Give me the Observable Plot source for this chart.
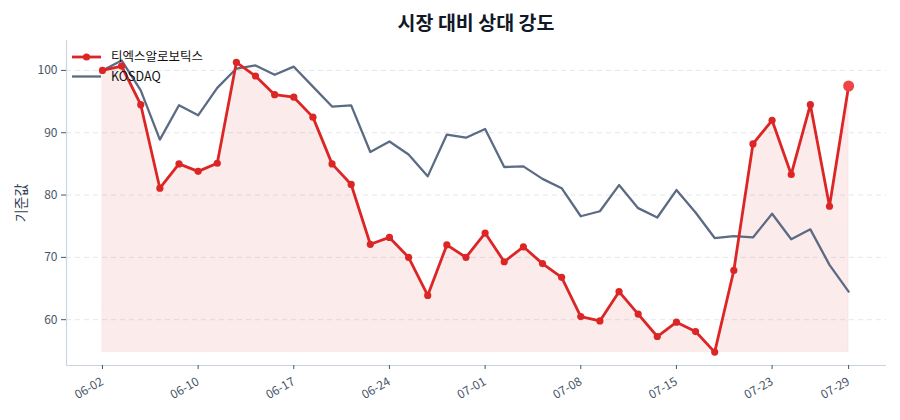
<!DOCTYPE html>
<html>
<head>
<meta charset="utf-8">
<script src="https://cdn.jsdelivr.net/npm/d3@7"></script>
<script src="https://cdn.jsdelivr.net/npm/@observablehq/plot@0.6"></script>
<style>
  html, body { margin: 0; padding: 0; background: #fff; }
  body { width: 900px; height: 420px; position: relative; overflow: hidden;
         font-family: "Noto Sans CJK KR", "Noto Sans", sans-serif; }
  #title { position: absolute; top: 7px; left: 66px; width: 820px; text-align: center;
           font-size: 19.5px; font-weight: 700; color: #111827; line-height: 30px; }
  #chart { position: absolute; top: 30px; left: 0; }
  #overlay { position: absolute; top: 0; left: 0; pointer-events: none; }
</style>
</head>
<body>
<div id="title">시장 대비 상대 강도</div>
<div id="chart"></div>
<svg id="overlay" width="900" height="420"></svg>
<script>
const dates = ["06-02","06-03","06-04","06-05","06-09","06-10","06-11","06-12","06-13","06-16",
  "06-17","06-18","06-19","06-20","06-23","06-24","06-25","06-26","06-27","06-30",
  "07-01","07-02","07-03","07-04","07-07","07-08","07-09","07-10","07-11","07-14",
  "07-15","07-16","07-17","07-18","07-21","07-23","07-24","07-25","07-28","07-29"];
const stockName = "티엑스알로보틱스";
const indexName = "KOSDAQ";
const stockValues = [100, 100.7, 94.5, 81.1, 85.0, 83.8, 85.1, 101.3, 99.1, 96.1,
  95.7, 92.5, 85.0, 81.7, 72.1, 73.2, 70.0, 63.9, 72.0, 70.0,
  73.9, 69.3, 71.7, 69.0, 66.8, 60.5, 59.8, 64.5, 60.9, 57.3,
  59.6, 58.1, 54.8, 67.9, 88.2, 92.0, 83.3, 94.5, 78.2, 97.5];
const indexValues = [100, 101.6, 96.8, 88.9, 94.4, 92.8, 97.2, 100.3, 100.8, 99.3,
  100.6, 97.4, 94.2, 94.4, 86.9, 88.6, 86.5, 83.0, 89.7, 89.2,
  90.6, 84.5, 84.6, 82.6, 81.1, 76.6, 77.4, 81.6, 77.9, 76.4,
  80.8, 77.2, 73.1, 73.4, 73.2, 77.0, 72.9, 74.5, 68.8, 64.5];
const tickDates = ["06-02","06-10","06-17","06-24","07-01","07-08","07-15","07-23","07-29"];
const yTicks = [60, 70, 80, 90, 100];
const yLabel = "기준값";

const RED = "#dc2626", GRAY = "#5b6b84";
const data = dates.map((d, i) => ({i, date: d, stock: stockValues[i], index: indexValues[i]}));
const base = d3.min(stockValues);
const last = data[data.length - 1];
const tickIdx = tickDates.map(t => dates.indexOf(t));

const chart = Plot.plot({
  width: 900, height: 390,
  marginTop: 10, marginBottom: 55, marginLeft: 66, marginRight: 14,
  style: {fontFamily: '"Noto Sans CJK KR", "Noto Sans", sans-serif', fontSize: "11.5px", color: "#475569", background: "transparent"},
  x: {type: "linear", domain: [-1.88, 40.98]},
  y: {domain: [52.65, 104.8]},
  marks: [
    Plot.gridY(yTicks, {stroke: "#e2e8f0", strokeOpacity: 1, strokeDasharray: "5,4", strokeWidth: 1}),
    Plot.areaY(data, {x: "i", y1: base, y2: "stock", fill: RED, fillOpacity: 0.09, stroke: RED, strokeOpacity: 0.06, strokeWidth: 1}),
    Plot.lineY(data, {x: "i", y: "index", stroke: GRAY, strokeWidth: 2.3, strokeLinejoin: "round"}),
    Plot.lineY(data, {x: "i", y: "stock", stroke: RED, strokeWidth: 2.8, strokeLinejoin: "round"}),
    Plot.dot(data.slice(0, -1), {x: "i", y: "stock", r: 3.6, fill: RED, stroke: "none"}),
    Plot.dot([last], {x: "i", y: "stock", r: 5.5, fill: "#ef4444", stroke: "none"}),
    Plot.ruleX([-1.88], {stroke: "#cbd5e1", strokeWidth: 1.2}),
    Plot.ruleY([52.65], {stroke: "#cbd5e1", strokeWidth: 1.2}),
    Plot.axisY(yTicks, {tickSize: 5, tickPadding: 4, stroke: "#475569", fill: "#475569", fontSize: 12, label: null}),
    Plot.axisX(tickIdx, {tickSize: 4, tickPadding: 11, tickRotate: -30, stroke: "#475569", fill: "#475569",
      fontSize: 12, tickFormat: i => dates[i], label: null})
  ]
});
document.getElementById("chart").appendChild(chart);

const ov = d3.select("#overlay");
// y-axis label
ov.append("text").attr("transform", "translate(21,203) rotate(-90)")
  .attr("text-anchor", "middle").attr("dy", "0.35em")
  .attr("font-size", 14).attr("fill", "#334155").attr("font-family", '"Noto Sans CJK KR", sans-serif')
  .text(yLabel);

// legend
const items = [
  {name: stockName, color: RED, width: 2.8, dot: true, y: 57},
  {name: indexName, color: GRAY, width: 2.3, dot: false, y: 76.5}
];
items.forEach(it => {
  ov.append("line").attr("x1", 72).attr("x2", 101).attr("y1", it.y).attr("y2", it.y)
    .attr("stroke", it.color).attr("stroke-width", it.width);
  if (it.dot) ov.append("circle").attr("cx", 86.5).attr("cy", it.y).attr("r", 3.6).attr("fill", it.color);
  ov.append("text").attr("x", 111).attr("y", it.y).attr("dy", "0.35em")
    .attr("font-size", 12.5).attr("fill", "#111").attr("font-family", '"Noto Sans CJK KR", sans-serif')
    .text(it.name);
});
</script>
</body>
</html>
